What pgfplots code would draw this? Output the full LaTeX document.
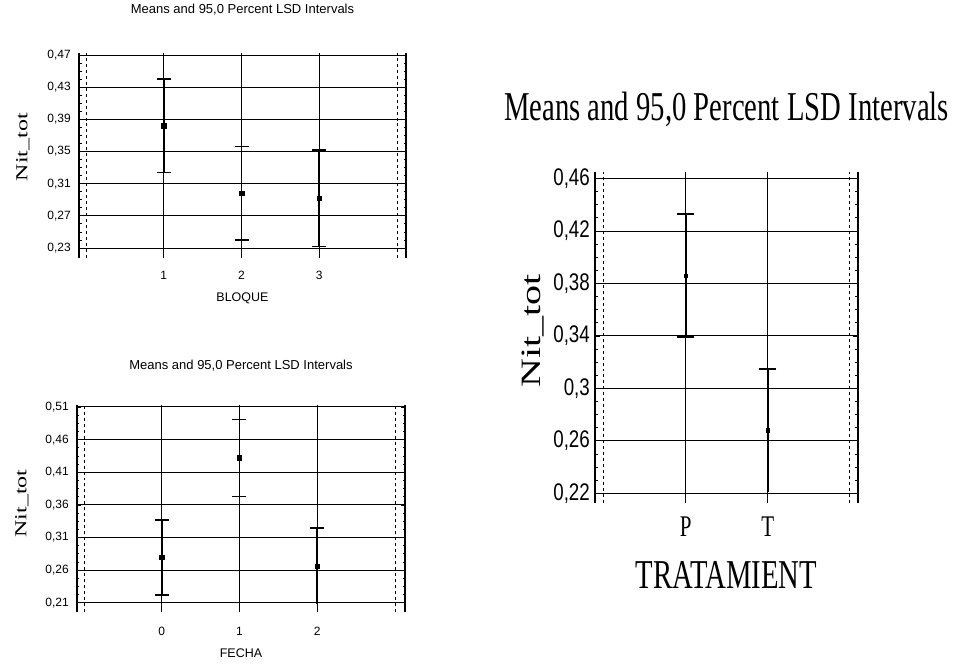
\documentclass[border=0pt]{standalone}
\usepackage{fontspec}
\setmainfont{Liberation Serif}
\newfontfamily\serifc[FakeStretch=0.7]{Liberation Serif}
\newfontfamily\sansc[FakeStretch=0.78]{Liberation Sans}
\newfontfamily\sansn{Liberation Sans}
\usepackage{pgfplots}
\pgfplotsset{compat=1.18}
\pgfplotsset{
  lsd/.style={
    scale only axis,
    separate axis lines,
    x axis line style={draw=none},
    y axis line style={line width=1.3bp},
    xtick style={draw=none},
    ytick style={line width=0.8bp, black},
    tick align=inside,
    major tick length=4bp,
    minor tick length=2.5bp,
    minor y tick num=3,
    xmajorgrids, ymajorgrids,
    major grid style={black, line width=1bp},
    extra x tick labels={},
    extra x tick style={xmajorgrids, major grid style={black, dashed, line width=0.8bp}},
    /pgf/number format/assume math mode=true,
    yticklabel style={/pgf/number format/use comma, /pgf/number format/fixed, /pgf/number format/precision=2, anchor=east, inner sep=0pt},
    xticklabel style={anchor=base, inner sep=0pt},
    clip=true,
  },
  ibar/.style={black, line width=1.6bp, mark=none},
  icap/.style={black, only marks, mark=-, mark size=#1, mark options={line width=1.5bp}},
  imean/.style={black, only marks, mark=square*, mark size=#1},
}
\begin{document}
\begin{tikzpicture}
\useasboundingbox (0,0) rectangle (955bp,664bp);

% ---- top-left: BLOQUE ----
\begin{axis}[lsd, at={(79bp,406bp)}, anchor=south west,
  width=327bp, height=205bp,
  xmin=-0.09, xmax=4.115, ymin=0.2176, ymax=0.4725,
  xtick={1,2,3}, extra x ticks={0,4},
  ytick={0.23,0.27,0.31,0.35,0.39,0.43,0.47},
  yticklabel style={xshift=-8bp, font=\sansn\fontsize{12bp}{14bp}\selectfont},
  xticklabel style={yshift=-22bp, font=\sansn\fontsize{12bp}{14bp}\selectfont},
  title={Means and 95,0 Percent LSD Intervals},
  title style={at={(0.5,1)}, anchor=base, yshift=34bp, inner sep=0pt, font=\sansn\fontsize{13bp}{15bp}\selectfont},
  xlabel={BLOQUE},
  xlabel style={at={(axis description cs:0.5,0)}, anchor=base, yshift=-44bp, inner sep=0pt, font=\sansn\fontsize{12.5bp}{15bp}\selectfont},
  ylabel={\scalebox{0.7}[1]{\rotatebox{90}{\fontsize{24bp}{26bp}\selectfont Nit\_tot}}},
  ylabel style={rotate=-90, at={(axis description cs:0,0.541)}, anchor=center, xshift=-56bp, inner sep=0pt},
]
% intervals (lower, upper)
\addplot[ibar] coordinates {(1,0.324) (1,0.440)};
\addplot[ibar] coordinates {(2,0.240) (2,0.356)};
\addplot[ibar] coordinates {(3,0.232) (3,0.352)};
\addplot[icap=7bp] coordinates {(1,0.324) (1,0.440) (2,0.240) (2,0.356) (3,0.232) (3,0.352)};
\addplot[imean=2.2bp] coordinates {(1,0.382) (2,0.298) (3,0.292)};
\end{axis}

% ---- bottom-left: FECHA ----
\begin{axis}[lsd, at={(77bp,52bp)}, anchor=south west,
  width=328bp, height=207bp,
  xmin=-1.09, xmax=3.13, ymin=0.196, ymax=0.513,
  xtick={0,1,2}, extra x ticks={-1,3},
  ytick={0.21,0.26,0.31,0.36,0.41,0.46,0.51},
  yticklabel style={xshift=-8bp, font=\sansn\fontsize{12bp}{14bp}\selectfont},
  xticklabel style={yshift=-23bp, font=\sansn\fontsize{12bp}{14bp}\selectfont},
  title={Means and 95,0 Percent LSD Intervals},
  title style={at={(0.5,1)}, anchor=base, yshift=30bp, inner sep=0pt, font=\sansn\fontsize{13bp}{15bp}\selectfont},
  xlabel={FECHA},
  xlabel style={at={(axis description cs:0.5,0)}, anchor=base, yshift=-45bp, inner sep=0pt, font=\sansn\fontsize{12.5bp}{15bp}\selectfont},
  ylabel={\scalebox{0.7}[1]{\rotatebox{90}{\fontsize{24bp}{26bp}\selectfont Nit\_tot}}},
  ylabel style={rotate=-90, at={(axis description cs:0,0.524)}, anchor=center, xshift=-55bp, inner sep=0pt},
]
\addplot[ibar] coordinates {(0,0.222) (0,0.337)};
\addplot[ibar] coordinates {(1,0.373) (1,0.491)};
\addplot[ibar] coordinates {(2,0.2085) (2,0.3245)};
\addplot[icap=7bp] coordinates {(0,0.222) (0,0.337) (1,0.373) (1,0.491) (2,0.3245)};
\addplot[imean=2.2bp] coordinates {(0,0.2795) (1,0.432) (2,0.2665)};
\end{axis}

% ---- right: TRATAMIENT ----
\begin{axis}[lsd, at={(595bp,161bp)}, anchor=south west,
  width=263bp, height=331bp,
  xmin=-0.106, xmax=3.10, ymin=0.2126, ymax=0.465,
  xtick={1,2}, xticklabels={P,T}, extra x ticks={0,3},
  ytick={0.22,0.26,0.3,0.34,0.38,0.42,0.46},
  major tick length=5bp, minor tick length=3bp,
  yticklabel style={xshift=-5bp, font=\sansc\fontsize{24bp}{26bp}\selectfont},
  xticklabel style={yshift=-34bp, font=\serifc\fontsize{30bp}{32bp}\selectfont},
  title={Means and 95,0 Percent LSD Intervals},
  title style={at={(0.5,1)}, anchor=base, yshift=46bp, inner sep=0pt, font=\serifc\fontsize{41bp}{45bp}\selectfont},
  xlabel={TRATAMIENT},
  xlabel style={at={(axis description cs:0.5,0)}, anchor=base, yshift=-85bp, inner sep=0pt, font=\serifc\fontsize{41bp}{45bp}\selectfont},
  ylabel={\scalebox{0.7}[1]{\rotatebox{90}{\fontsize{40bp}{44bp}\selectfont Nit\_tot}}},
  ylabel style={rotate=-90, at={(axis description cs:0,0.52)}, anchor=center, xshift=-62bp, inner sep=0pt},
]
\addplot[ibar] coordinates {(1,0.3392) (1,0.4328)};
\addplot[ibar] coordinates {(2,0.2211) (2,0.3147)};
\addplot[icap=8.5bp] coordinates {(1,0.3392) (1,0.4328) (2,0.3147)};
\addplot[imean=1.8bp] coordinates {(1,0.386) (2,0.2679)};
\end{axis}
\end{tikzpicture}
\end{document}
